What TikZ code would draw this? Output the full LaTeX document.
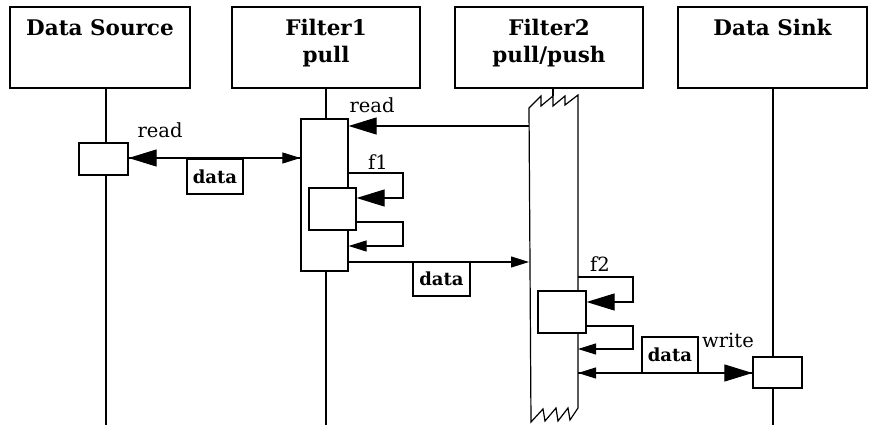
\documentclass[tikz,border=0pt]{standalone}
\usepackage{fontspec}
\setmainfont{DejaVu Serif}
\usetikzlibrary{arrows.meta}
\tikzset{
  hdr/.style={draw, line width=1.2pt, minimum width=#1, minimum height=81pt, inner sep=0pt},
  htext/.style={font=\fontsize{21.5}{27}\selectfont\bfseries, align=center, inner sep=0pt, anchor=north},
  act/.style={draw, line width=1.2pt, fill=white, inner sep=0pt},
  lbl/.style={font=\fontsize{19.5}{22}\selectfont, inner sep=0pt},
  databox/.style={draw, line width=1.2pt, inner sep=0pt, minimum width=56pt, minimum height=35pt, font=\fontsize{18}{20}\selectfont\bfseries},
  life/.style={line width=1.1pt},
  msg/.style={line width=1.1pt},
  big/.style={-{Triangle[length=28pt,width=17pt]}},
  small/.style={-{Triangle[length=18pt,width=11pt]}},
}
\begin{document}
\begin{tikzpicture}[x=1pt,y=-1pt]
\useasboundingbox (0,0) rectangle (871,425);
% headers
\node[hdr=180pt] (ds) at (100,47.5) {};
\node[hdr=188pt] (f1) at (326,47.5) {};
\node[hdr=188pt] (f2) at (549,47.5) {};
\node[hdr=189pt] (sk) at (772.5,47.5) {};
\node[htext] (dst) at (100,19) {Data Source};
\node[htext] (f1t) at (326,19) {Filter1\\pull};
\node[htext] (f2t) at (549,19) {Filter2\\pull/push};
\node[htext] (skt) at (772.5,19) {Data Sink};

% lifeline coordinates
\coordinate (dsT) at (106,88);  \coordinate (dsB) at (106,425);
\coordinate (f1T) at (326,88);  \coordinate (f1B) at (326,425);
\coordinate (f2T) at (553,88);  \coordinate (f2Z) at (553,96);
\coordinate (skT) at (773,88);  \coordinate (skB) at (773,425);
\draw[life] (dsT) -- (dsB);
\draw[life] (f1T) -- (f1B);
\draw[life] (f2T) -- (f2Z);
\draw[life] (skT) -- (skB);

% activation boxes
\node[act, minimum width=49pt, minimum height=32pt] (dsa) at (103.5,159) {};
\node[act, minimum width=47pt, minimum height=152pt] (f1a) at (324.5,195) {};
\node[act, minimum width=47pt, minimum height=42pt] (f1i) at (332.5,209) {};
\node[act, minimum width=49pt, minimum height=31pt] (ska) at (777.5,372.5) {};

% Filter2 activation with zigzag ends
\draw[line width=1.2pt, fill=white, line join=miter]
  (529,108) -- (541,96) -- (541,106) -- (553,96) -- (553,106) -- (565,96) -- (565,105) -- (578,95)
  -- (578,408) -- (570,420) -- (568,408) -- (558,421) -- (556,408) -- (545,421) -- (543,409) -- (531,422) -- cycle;
\coordinate (f2L) at (529,262);
\node[act, minimum width=48pt, minimum height=42pt] (f2i) at (562,312) {};

% read from Filter2 to Filter1
\draw[msg, big] (f2L |- 0,126) -- (f1a.east |- 0,126);
\node[lbl] (rd1) at (372,105) {read};

% read / data between Data Source and Filter1
\draw[msg, big] (f1a.west |- 0,158) -- (dsa.east |- 0,158);
\draw[msg, small] (dsa.east |- 0,158) -- (f1a.west |- 0,158);
\node[lbl] (rd0) at (160,130) {read};
\node[databox] (d1) at (215,176.5) {data};

% f1 loops
\coordinate (l1a) at (403,173);
\coordinate (l1b) at (403,198);
\draw[msg, big] (f1a.east |- l1a) -- (l1a) -- (l1b) -- (f1i.east |- l1b);
\node[lbl] (f1l) at (378,162) {f1};
\coordinate (l2a) at (403,222);
\coordinate (l2b) at (403,246);
\draw[msg, small] (f1i.east |- l2a) -- (l2a) -- (l2b) -- (f1a.east |- l2b);

% data Filter1 -> Filter2
\draw[msg, small] (f1a.east |- f2L) -- (f2L);
\node[databox, minimum width=57pt, minimum height=34pt] (d2) at (441.5,279) {data};

% f2 loops
\coordinate (l3a) at (633,277);
\coordinate (l3b) at (633,302);
\draw[msg, big] (578,277) -- (l3a) -- (l3b) -- (f2i.east |- l3b);
\node[lbl] (f2l) at (600,264) {f2};
\coordinate (l4a) at (633,326);
\coordinate (l4b) at (633,349);
\draw[msg, small] (f2i.east |- l4a) -- (l4a) -- (l4b) -- (578,349);

% write / data Filter2 <-> Data Sink
\coordinate (wL) at (578,373);
\draw[msg, big] (wL) -- (ska.west |- wL);
\draw[msg, small] (ska.west |- wL) -- (wL);
\node[databox, minimum width=56pt, minimum height=36pt] (d3) at (670,355) {data};
\node[lbl] (wr) at (728,340) {write};
\end{tikzpicture}
\end{document}
